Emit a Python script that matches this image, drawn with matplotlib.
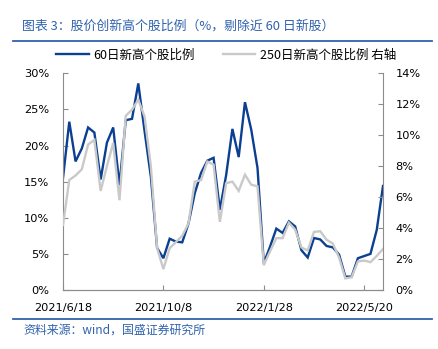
import numpy as np
import pandas as pd
import matplotlib
matplotlib.use('Agg')
import matplotlib.pyplot as plt
from matplotlib.lines import Line2D
from matplotlib.ticker import FuncFormatter

cjk = ['Noto Sans CJK SC', 'DejaVu Sans']

dates = pd.date_range('2021-06-18', periods=52, freq='7D')

# 60日新高个股比例 (左轴, %)
new_high_60 = [15.5, 23.3, 17.8, 19.6, 22.5, 21.8, 15.3, 20.4, 22.5, 14.5,
               23.5, 23.7, 28.6, 22.0, 15.7, 5.8, 4.4, 7.1, 6.7, 6.6,
               9.2, 13.4, 16.2, 17.9, 18.3, 11.1, 15.9, 22.3, 18.4, 26.0,
               22.2, 16.9, 3.7, 6.0, 8.5, 7.9, 9.5, 8.8, 5.5, 4.5,
               7.2, 7.0, 6.1, 5.9, 4.9, 1.85, 1.85, 4.4, 4.7, 5.0,
               8.3, 14.4]

# 250日新高个股比例 (右轴, %)
new_high_250 = [4.2, 7.1, 7.4, 7.8, 9.4, 9.7, 6.4, 8.0, 9.5, 5.8,
                11.25, 11.65, 12.3, 11.2, 8.0, 2.7, 1.35, 2.7, 3.1, 3.5,
                4.3, 7.0, 7.1, 8.3, 8.1, 4.4, 6.9, 7.0, 6.4, 7.45,
                6.8, 6.7, 1.6, 2.5, 3.35, 3.35, 4.35, 3.9, 2.75, 2.55,
                3.75, 3.8, 3.25, 3.0, 2.1, 0.75, 0.82, 1.85, 1.9, 1.8,
                2.2, 2.65]

tick_idx = [0, 16, 32, 48]
tick_labels = ['2021/6/18', '2021/10/8', '2022/1/28', '2022/5/20']

blue = '#0B3F91'
gray = '#C9C9C9'
rule = '#2F62AD'
spine_c = '#8C8C8C'

fig = plt.figure(figsize=(4.39, 3.49), dpi=100)
ax1 = fig.add_axes([63/439, 1-290/349, 320/439, (290-73.3)/349])
ax2 = ax1.twinx()

l1, = ax1.plot(dates, new_high_60, color=blue, lw=1.7, solid_joinstyle='miter')
l2, = ax2.plot(dates, new_high_250, color=gray, lw=1.7, solid_joinstyle='miter')

ax1.set_xlim(dates[0], dates[-1])
ax1.set_ylim(0, 30)
ax2.set_ylim(0, 14)
ax1.set_yticks(np.arange(0, 31, 5))
ax2.set_yticks(np.arange(0, 15, 2))
ax1.yaxis.set_major_formatter(FuncFormatter(lambda v, p: f'{v:.0f}%'))
ax2.yaxis.set_major_formatter(FuncFormatter(lambda v, p: f'{v:.0f}%'))
ax1.set_xticks([dates[i] for i in tick_idx])
ax1.set_xticklabels(tick_labels)

for ax in (ax1, ax2):
    for s in ax.spines.values():
        s.set_color(spine_c)
        s.set_linewidth(0.8)
    ax.spines['top'].set_visible(False)
    ax.tick_params(direction='in', length=3.5, color=spine_c, labelsize=8.2,
                   labelcolor='black')
ax1.spines['right'].set_visible(False)
ax2.spines['left'].set_visible(False)
ax1.tick_params(axis='y', pad=10)
ax2.tick_params(axis='y', pad=9)
ax1.tick_params(axis='x', pad=9.5)

# title & rules
fig.text(22/439, 1-26/349, '图表 3：股价创新高个股比例（%，剔除近 60 日新股）',
         family=cjk, style='italic', color=rule, fontsize=9.3, va='center')
fig.add_artist(Line2D([13/439, 432/439], [1-40.5/349]*2, color=rule, lw=1.3))
fig.add_artist(Line2D([13/439, 432/439], [1-319/349]*2, color=rule, lw=1.3))
fig.text(23/439, 1-330/349, '资料来源：wind，国盛证券研究所',
         family=cjk, style='italic', color=rule, fontsize=8.6, va='center')

fig.legend([l1, l2], ['60日新高个股比例', '250日新高个股比例 右轴'],
           loc='center left', bbox_to_anchor=(45/439, 1-55/349), ncol=2,
           frameon=False, handlelength=2.6, handletextpad=0.4,
           columnspacing=2.2, prop={'family': cjk, 'size': 9})

fig.savefig('out.png', dpi=100)
